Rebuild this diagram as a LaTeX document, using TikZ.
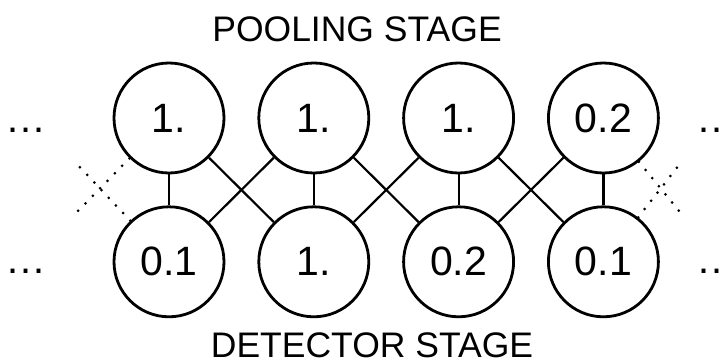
\documentclass[tikz,border=0pt]{standalone}
\usepackage{fontspec}
\setmainfont{Liberation Sans}
\usetikzlibrary{positioning}
\tikzstyle{unit} = [circle, draw=black, line width=2.8pt, minimum size=110pt, inner sep=0pt, font=\fontsize{41}{44}\selectfont]
\tikzstyle{more} = [circle, minimum size=110pt, inner sep=0pt, font=\fontsize{41}{44}\selectfont, execute at begin node=\vphantom{0}]
\tikzstyle{link} = [line width=2.2pt]
\tikzstyle{faint} = [line width=3pt, line cap=round, dash pattern=on 0pt off 10.5pt]
\tikzstyle{stage} = [anchor=base, inner sep=0pt, font=\fontsize{35.5}{38}\selectfont]

\begin{document}
\begin{tikzpicture}[x=1pt, y=-1pt, node distance=32pt and 32pt]
			\useasboundingbox (0,0) rectangle (726,361);
			% pooling row
			\node[unit] (p1) at (169,118) {1.};
			\node[unit, right=of p1] (p2) {1.};
			\node[unit, right=of p2] (p3) {1.};
			\node[unit, right=of p3] (p4) {0.2};
			% detector row
			\node[unit, below=31pt of p1] (d1) {0.1};
			\node[unit, right=of d1] (d2) {1.};
			\node[unit, right=of d2] (d3) {0.2};
			\node[unit, right=of d3] (d4) {0.1};
			% dots at both ends
			\node[more] (pl) at (26,118) {…};
			\node[more] (dl) at (26,259) {…};
			\node[more] (pr) at (717,118) {…};
			\node[more] (dr) at (717,259) {…};
			% stage labels
			\node[stage] (pooling) at (357,42) {POOLING STAGE};
			\node[stage] (detector) at (372,357) {DETECTOR STAGE};
			% connections
			\draw[link] (p1) -- (d1);
			\draw[link] (p2) -- (d2);
			\draw[link] (p3) -- (d3);
			\draw[link] (p4) -- (d4);
			\draw[link] (p1) -- (d2);
			\draw[link] (d1) -- (p2);
			\draw[link] (p2) -- (d3);
			\draw[link] (d2) -- (p3);
			\draw[link] (p3) -- (d4);
			\draw[link] (d3) -- (p4);
			% faded links to the neighbours
			\coordinate (lowl) at (75,214);
			\coordinate (upl) at (75,162);
			\coordinate (lowr) at (683,216);
			\coordinate (upr) at (683,160);
			\draw[faint] (p1) -- (lowl);
			\draw[faint] (d1) -- (upl);
			\draw[faint] (p4) -- (lowr);
			\draw[faint] (d4) -- (upr);
		\end{tikzpicture}
\end{document}
